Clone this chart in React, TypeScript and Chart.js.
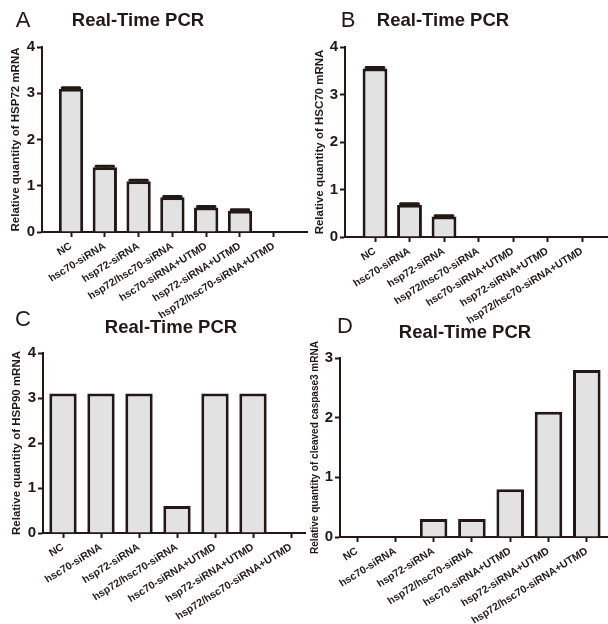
import React, { useEffect, useRef } from "react";
import { Chart, registerables } from "chart.js";

Chart.register(...registerables);

// ---------- data ----------
const categories = [
  "NC",
  "hsc70-siRNA",
  "hsp72-siRNA",
  "hsp72/hsc70-siRNA",
  "hsc70-siRNA+UTMD",
  "hsp72-siRNA+UTMD",
  "hsp72/hsc70-siRNA+UTMD",
];
const hsp72Values = [3.1, 1.4, 1.1, 0.75, 0.53, 0.46, 0];
const hsp72Errors = [0.02, 0.02, 0.02, 0.02, 0.02, 0.02, 0];
const hsc70Values = [3.55, 0.68, 0.43, 0, 0, 0, 0];
const hsc70Errors = [0.02, 0.02, 0.02, 0, 0, 0, 0];
const hsp90Values = [3.1, 3.1, 3.1, 0.6, 3.1, 3.1, 0];
const caspase3Values = [0, 0, 0.3, 0.3, 0.8, 2.1, 2.8];
const yTicksFour = [0, 1, 2, 3, 4];
const yTicksThree = [0, 1, 2, 3];
const chartTitle = "Real-Time PCR";

// ---------- styles ----------
const INK = "#231815";
const BAR_FILL = "#e2e2e2";
const FONT = "'Liberation Sans', Arial, sans-serif";
const LABEL_ROTATION = 32;

type Panel = {
  letter: string;
  values: number[];
  errors: number[] | null;
  yLabel: string;
  yMax: number;
  yTicks: number[];
  left: number;
  top: number;
  width: number;
  height: number;
  plotLeft: number;
  plotRight: number;
  plotTop: number;
  plotBottom: number;
  firstTick: number;
  spacing: number;
  yTitleSize: number;
  yTitleCenter: number;
  letterPos: [number, number];
  titlePos: [number, number];
};

const panels: Panel[] = [
  {
    letter: "A",
    values: hsp72Values,
    errors: hsp72Errors,
    yLabel: "Relative quantity of HSP72 mRNA",
    yMax: 4,
    yTicks: yTicksFour,
    left: 0,
    top: 0,
    width: 312,
    height: 332,
    plotLeft: 42,
    plotRight: 307,
    plotTop: 47,
    plotBottom: 232,
    firstTick: 71,
    spacing: 33.8,
    yTitleSize: 11.5,
    yTitleCenter: 16,
    letterPos: [23, 20],
    titlePos: [138, 20],
  },
  {
    letter: "B",
    values: hsc70Values,
    errors: hsc70Errors,
    yLabel: "Relative quantity of HSC70 mRNA",
    yMax: 4,
    yTicks: yTicksFour,
    left: 304,
    top: 0,
    width: 304,
    height: 332,
    plotLeft: 345,
    plotRight: 607,
    plotTop: 47,
    plotBottom: 237,
    firstTick: 375,
    spacing: 34.5,
    yTitleSize: 11.5,
    yTitleCenter: 320,
    letterPos: [348, 20],
    titlePos: [443, 20],
  },
  {
    letter: "C",
    values: hsp90Values,
    errors: null,
    yLabel: "Relative quantity of HSP90 mRNA",
    yMax: 4,
    yTicks: yTicksFour,
    left: 0,
    top: 310,
    width: 310,
    height: 314,
    plotLeft: 43,
    plotRight: 305,
    plotTop: 353,
    plotBottom: 533,
    firstTick: 63,
    spacing: 38,
    yTitleSize: 11.5,
    yTitleCenter: 17,
    letterPos: [23, 319],
    titlePos: [171, 327],
  },
  {
    letter: "D",
    values: caspase3Values,
    errors: null,
    yLabel: "Relative quantity of cleaved caspase3 mRNA",
    yMax: 3,
    yTicks: yTicksThree,
    left: 304,
    top: 310,
    width: 304,
    height: 314,
    plotLeft: 340,
    plotRight: 607,
    plotTop: 358,
    plotBottom: 537,
    firstTick: 357,
    spacing: 38.3,
    yTitleSize: 10,
    yTitleCenter: 315,
    letterPos: [345, 326],
    titlePos: [465, 332],
  },
];

const errorBarPlugin = {
  id: "errorBars",
  afterDatasetsDraw(chart: any, _args: any, opts: any) {
    const errs: number[] | null = opts && opts.errors;
    if (!errs) return;
    const meta = chart.getDatasetMeta(0);
    const yScale = chart.scales.y;
    const ctx = chart.ctx;
    ctx.save();
    ctx.strokeStyle = INK;
    ctx.lineWidth = 3;
    ctx.lineCap = "round";
    meta.data.forEach((bar: any, i: number) => {
      const e = errs[i];
      const v = chart.data.datasets[0].data[i].y;
      if (!e || !v) return;
      const yTop = yScale.getPixelForValue(v + e);
      const yBase = yScale.getPixelForValue(v);
      const half = bar.width * 0.36;
      ctx.beginPath();
      ctx.moveTo(bar.x, yBase);
      ctx.lineTo(bar.x, yTop);
      ctx.moveTo(bar.x - half, yTop);
      ctx.lineTo(bar.x + half, yTop);
      ctx.stroke();
    });
    ctx.restore();
  },
};

function BarPanel({ p }: { p: Panel }) {
  const ref = useRef<HTMLCanvasElement | null>(null);
  useEffect(() => {
    if (!ref.current) return;
    const yAxisWidth = p.plotLeft - p.left;
    const xAxisHeight = p.top + p.height - p.plotBottom;
    const xMin = (p.plotLeft - p.firstTick) / p.spacing;
    const xMax = (p.plotRight - p.firstTick) / p.spacing;
    const titleLine = p.yTitleSize * 1.2;
    const chart = new Chart(ref.current, {
      type: "bar",
      data: {
        datasets: [
          {
            data: p.values.map((v, i) => ({ x: i, y: v })) as any,
            backgroundColor: BAR_FILL,
            borderColor: INK,
            borderWidth: 3,
            barPercentage: 0.72,
            categoryPercentage: 1,
          },
        ],
      },
      options: {
        animation: false,
        responsive: false,
        devicePixelRatio: 1,
        layout: {
          padding: {
            left: 0,
            top: p.plotTop - p.top,
            right: p.left + p.width - p.plotRight,
            bottom: 0,
          },
        },
        plugins: {
          legend: { display: false },
          tooltip: { enabled: false },
          title: { display: false },
          errorBars: { errors: p.errors },
        } as any,
        scales: {
          x: {
            type: "linear",
            offset: false,
            min: xMin,
            max: xMax,
            afterBuildTicks: (s: any) => {
              s.ticks = p.values.map((_, i) => ({ value: i }));
            },
            afterCalculateLabelRotation: (s: any) => {
              s.labelRotation = LABEL_ROTATION;
            },
            afterFit: (s: any) => {
              s.height = xAxisHeight;
            },
            ticks: {
              autoSkip: false,
              maxRotation: LABEL_ROTATION,
              minRotation: LABEL_ROTATION,
              padding: 3,
              color: INK,
              font: { family: FONT, size: 10.5, weight: "bold" },
              callback: (v: any) => categories[Math.round(Number(v))] ?? "",
            },
            grid: {
              display: true,
              offset: false,
              drawOnChartArea: false,
              drawTicks: true,
              tickLength: 5,
              tickWidth: 2,
              tickColor: INK,
            },
            border: { display: true, color: INK, width: 2 },
          },
          y: {
            type: "linear",
            min: 0,
            max: p.yMax,
            afterBuildTicks: (s: any) => {
              s.ticks = p.yTicks.map((v) => ({ value: v }));
            },
            afterFit: (s: any) => {
              s.width = yAxisWidth;
            },
            ticks: {
              padding: 2,
              color: INK,
              font: { family: FONT, size: 15, weight: "bold" },
            },
            grid: {
              display: true,
              drawOnChartArea: false,
              drawTicks: true,
              tickLength: 5,
              tickWidth: 2,
              tickColor: INK,
            },
            border: { display: true, color: INK, width: 2 },
            title: {
              display: true,
              text: p.yLabel,
              color: INK,
              font: { family: FONT, size: p.yTitleSize, weight: "bold" },
              padding: { top: p.yTitleCenter - p.left - titleLine / 2, bottom: 0 },
            },
          },
        },
      } as any,
      plugins: [errorBarPlugin],
    });
    return () => chart.destroy();
  }, [p]);

  return (
    <>
      <canvas
        ref={ref}
        width={p.width}
        height={p.height}
        style={{
          position: "absolute",
          left: p.left,
          top: p.top,
          width: p.width,
          height: p.height,
        }}
      />
      <div
        style={{
          position: "absolute",
          left: p.letterPos[0],
          top: p.letterPos[1],
          transform: "translate(-50%, -50%)",
          fontFamily: FONT,
          fontSize: 22,
          color: INK,
          lineHeight: 1,
          whiteSpace: "nowrap",
        }}
      >
        {p.letter}
      </div>
      <div
        style={{
          position: "absolute",
          left: p.titlePos[0],
          top: p.titlePos[1],
          transform: "translate(-50%, -50%)",
          fontFamily: FONT,
          fontSize: 18.5,
          fontWeight: "bold",
          color: INK,
          lineHeight: 1,
          whiteSpace: "nowrap",
        }}
      >
        {chartTitle}
      </div>
    </>
  );
}

export default function App() {
  return (
    <div
      style={{
        position: "absolute",
        left: 0,
        top: 0,
        width: 608,
        height: 624,
        background: "#ffffff",
        overflow: "hidden",
      }}
    >
      {panels.map((p) => (
        <BarPanel key={p.letter} p={p} />
      ))}
    </div>
  );
}
